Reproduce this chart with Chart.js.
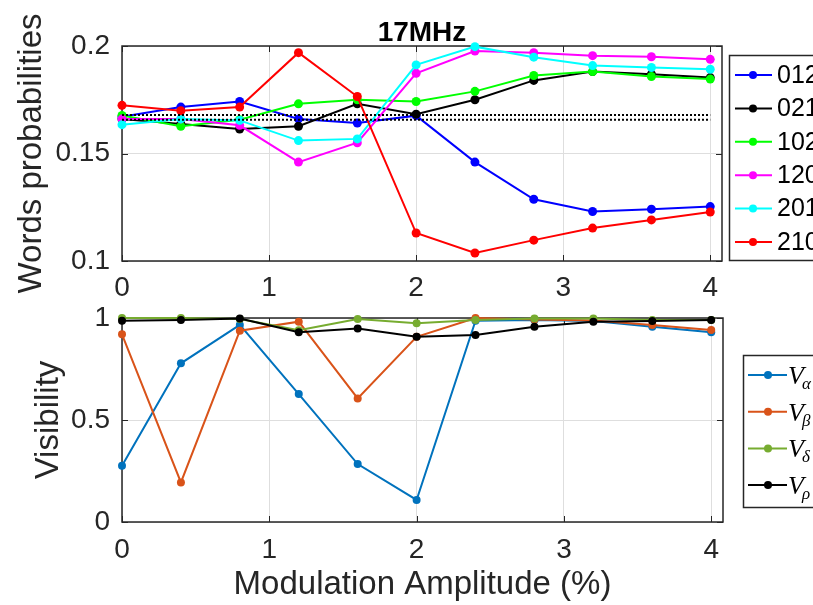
<!DOCTYPE html>
<html><head><meta charset="utf-8">
<script src="https://cdn.jsdelivr.net/npm/chart.js@4.4.0/dist/chart.umd.min.js"></script>
<style>
html,body{margin:0;padding:0;background:#fff;}
#wrap{position:relative;width:813px;height:605px;overflow:hidden;background:#fff;}
#c1{position:absolute;left:0;top:0;}
#c2{position:absolute;left:0;top:300px;}
</style></head><body>
<div id="wrap"><canvas id="c1" width="813" height="300"></canvas><canvas id="c2" width="813" height="305"></canvas></div>
<script>
// ---- data ----
const amplitudes = [0, 0.4, 0.8, 1.2, 1.6, 2.0, 2.4, 2.8, 3.2, 3.6, 4.0];
const xTicks = [0, 1, 2, 3, 4];

const chartTitle = '17MHz';
const wordLabels = ['012', '021', '102', '120', '201', '210'];
const p012 = [0.1671, 0.1716, 0.1742, 0.1661, 0.1642, 0.1676, 0.1460, 0.1287, 0.1230, 0.1241, 0.1253];
const p021 = [0.1660, 0.1637, 0.1614, 0.1627, 0.1731, 0.1683, 0.1750, 0.1840, 0.1881, 0.1869, 0.1853];
const p102 = [0.1677, 0.1627, 0.1657, 0.1731, 0.1750, 0.1742, 0.1789, 0.1863, 0.1881, 0.1858, 0.1846];
const p120 = [0.1660, 0.1661, 0.1631, 0.1460, 0.1550, 0.1873, 0.1977, 0.1969, 0.1955, 0.1950, 0.1938];
const p201 = [0.1634, 0.1661, 0.1654, 0.1560, 0.1568, 0.1912, 0.1997, 0.1948, 0.1909, 0.1900, 0.1892];
const p210 = [0.1724, 0.1699, 0.1716, 0.1969, 0.1765, 0.1130, 0.1037, 0.1097, 0.1153, 0.1191, 0.1228];
const uniformBand = [0.1679, 0.1657];
const wordYTicks = [0.1, 0.15, 0.2];

const visSubscripts = ['α', 'β', 'δ', 'ρ'];
const vAlpha = [0.276, 0.778, 0.966, 0.627, 0.284, 0.108, 0.987, 0.990, 0.985, 0.957, 0.930];
const vBeta  = [0.920, 0.194, 0.938, 0.982, 0.606, 0.908, 1.000, 0.993, 0.988, 0.966, 0.941];
const vDelta = [1.000, 1.000, 0.995, 0.940, 0.995, 0.974, 0.990, 0.998, 0.998, 0.990, 0.990];
const vRho   = [0.987, 0.990, 0.998, 0.930, 0.949, 0.908, 0.917, 0.957, 0.982, 0.985, 0.990];
const visYTicks = [0, 0.5, 1];

// ---- styles ----
const FONT = '"Liberation Sans", Arial, Helvetica, sans-serif';
const AX = '#262626';
const GRID = '#dedede';
const topColors = ['#0000ff', '#000000', '#00ff00', '#ff00ff', '#00ffff', '#ff0000'];
const visColors = ['#0072bd', '#d95319', '#77ac30', '#000000'];

Chart.defaults.font.family = FONT;

function seriesData(ys) { return amplitudes.map((x, i) => ({ x: x, y: ys[i] })); }

function lineDs(label, ys, color, order) {
  return { label: label, data: seriesData(ys), borderColor: color, backgroundColor: color,
    borderWidth: 2, pointRadius: 4.5, pointBorderWidth: 0, pointHoverRadius: 4.5,
    clip: false, order: order, tension: 0 };
}

const frame = {
  id: 'frame',
  beforeDatasetsDraw(chart) {
    const { ctx, chartArea: a, scales: { x, y } } = chart;
    ctx.save();
    ctx.strokeStyle = AX;
    ctx.lineWidth = 1.5;
    ctx.strokeRect(a.left, a.top, a.right - a.left, a.bottom - a.top);
    ctx.lineWidth = 1;
    ctx.beginPath();
    x.ticks.forEach(t => {
      const px = Math.round(x.getPixelForValue(t.value)) + 0.5;
      ctx.moveTo(px, a.bottom); ctx.lineTo(px, a.bottom - 6);
      ctx.moveTo(px, a.top); ctx.lineTo(px, a.top + 6);
    });
    y.ticks.forEach(t => {
      const py = Math.round(y.getPixelForValue(t.value)) + 0.5;
      ctx.moveTo(a.left, py); ctx.lineTo(a.left + 6, py);
      ctx.moveTo(a.right, py); ctx.lineTo(a.right - 6, py);
    });
    ctx.stroke();
    ctx.restore();
  }
};

function drawLegendBox(ctx, left, top, height) {
  ctx.fillStyle = '#ffffff';
  ctx.fillRect(left, top, 200, height);
  ctx.strokeStyle = AX;
  ctx.lineWidth = 1.5;
  ctx.strokeRect(left, top, 200, height);
}
function drawSample(ctx, x0, x1, xm, y, color) {
  ctx.strokeStyle = color; ctx.lineWidth = 2;
  ctx.beginPath(); ctx.moveTo(x0, y); ctx.lineTo(x1, y); ctx.stroke();
  ctx.fillStyle = color;
  ctx.beginPath(); ctx.arc(xm, y, 4, 0, Math.PI * 2); ctx.fill();
}

const topDecor = {
  id: 'topDecor',
  afterDraw(chart) {
    const ctx = chart.ctx;
    const a = chart.chartArea;
    ctx.save();
    ctx.fillStyle = '#000';
    ctx.font = 'bold 28px ' + FONT;
    ctx.textAlign = 'center';
    ctx.textBaseline = 'alphabetic';
    ctx.fillText(chartTitle, (a.left + a.right) / 2, 41);
    drawLegendBox(ctx, 729.5, 55.5, 205);
    ctx.font = '25px ' + FONT;
    ctx.textAlign = 'left';
    ctx.textBaseline = 'middle';
    wordLabels.forEach((lab, i) => {
      const y = 75 + i * 33.4;
      drawSample(ctx, 735, 772, 753, y, topColors[i]);
      ctx.fillStyle = '#000';
      ctx.fillText(lab, 777, y + 1);
    });
    ctx.restore();
  }
};

const botDecor = {
  id: 'botDecor',
  afterDraw(chart) {
    const ctx = chart.ctx;
    ctx.save();
    drawLegendBox(ctx, 743.5, 55.5, 152);
    ctx.textAlign = 'left';
    ctx.textBaseline = 'alphabetic';
    visSubscripts.forEach((sub, i) => {
      const y = 75 + i * 36.7;
      drawSample(ctx, 748, 787, 768, y, visColors[i]);
      ctx.fillStyle = '#000';
      ctx.font = 'italic 26px "Liberation Serif", "DejaVu Serif", serif';
      ctx.fillText('V', 788, y + 9);
      const w = ctx.measureText('V').width;
      ctx.font = 'italic 17px "Liberation Serif", "DejaVu Serif", serif';
      ctx.fillText(sub, 788 + w - 2, y + 14);
    });
    ctx.restore();
  }
};

function tickSetter(arr) { return s => { s.ticks = arr.map(v => ({ value: v })); }; }
function fmt(v) { return String(+Number(v).toFixed(2)); }
function yFit(s) { s.width = 122; s.paddingTop = 0; s.paddingBottom = 0; }

// ---- top chart ----
const topDatasets = [p012, p021, p102, p120, p201, p210].map((ys, i) => lineDs(wordLabels[i], ys, topColors[i], 10 - i));
uniformBand.forEach(v => topDatasets.push({
  label: '', data: [{ x: amplitudes[0], y: v }, { x: amplitudes[amplitudes.length - 1], y: v }],
  borderColor: '#000', borderWidth: 2, borderDash: [2, 2], pointRadius: 0, order: 0, clip: false
}));

new Chart(document.getElementById('c1'), {
  type: 'line',
  data: { datasets: topDatasets },
  plugins: [frame, topDecor],
  options: {
    responsive: false, animation: false, devicePixelRatio: 1, events: [],
    layout: { padding: { left: 0, right: 91, top: 46, bottom: 0 } },
    plugins: { legend: { display: false }, tooltip: { enabled: false }, title: { display: false } },
    scales: {
      x: {
        type: 'linear', min: 0, max: 4.08,
        afterBuildTicks: tickSetter(xTicks),
        afterFit: s => { s.height = 39; },
        grid: { color: GRID, lineWidth: 1, drawTicks: false },
        border: { display: false },
        ticks: { font: { size: 28 }, color: AX, padding: 10, maxRotation: 0, autoSkip: false, callback: v => fmt(v) }
      },
      y: {
        type: 'linear', min: 0.1, max: 0.2,
        afterBuildTicks: tickSetter(wordYTicks),
        afterFit: yFit,
        grid: { color: GRID, lineWidth: 1, drawTicks: false },
        border: { display: false },
        ticks: { font: { size: 28 }, color: AX, padding: 12, callback: v => fmt(v) },
        title: { display: true, text: 'Words probabilities', font: { size: 33 }, color: AX, padding: { top: 12, bottom: 0 } }
      }
    }
  }
});

// ---- bottom chart ----
const visSeries = [vAlpha, vBeta, vDelta, vRho];
const botDatasets = visSeries.map((ys, i) => {
  const d = lineDs('V' + visSubscripts[i], ys, visColors[i], 10 - i);
  d.pointRadius = 4;
  return d;
});

new Chart(document.getElementById('c2'), {
  type: 'line',
  data: { datasets: botDatasets },
  plugins: [frame, botDecor],
  options: {
    responsive: false, animation: false, devicePixelRatio: 1, events: [],
    layout: { padding: { left: 0, right: 90, top: 18, bottom: 0 } },
    plugins: { legend: { display: false }, tooltip: { enabled: false }, title: { display: false } },
    scales: {
      x: {
        type: 'linear', min: 0, max: 4.08,
        afterBuildTicks: tickSetter(xTicks),
        afterFit: s => { s.height = 83; },
        grid: { color: GRID, lineWidth: 1, drawTicks: false },
        border: { display: false },
        ticks: { font: { size: 28 }, color: AX, padding: 11, maxRotation: 0, autoSkip: false, callback: v => fmt(v) },
        title: { display: true, text: 'Modulation Amplitude (%)', font: { size: 33 }, color: AX, padding: { top: 0, bottom: 0 } }
      },
      y: {
        type: 'linear', min: 0, max: 1,
        afterBuildTicks: tickSetter(visYTicks),
        afterFit: yFit,
        grid: { color: GRID, lineWidth: 1, drawTicks: false },
        border: { display: false },
        ticks: { font: { size: 28 }, color: AX, padding: 12, callback: v => fmt(v) },
        title: { display: true, text: 'Visibility', font: { size: 33 }, color: AX, padding: { top: 29, bottom: 0 } }
      }
    }
  }
});
</script>
</body></html>
